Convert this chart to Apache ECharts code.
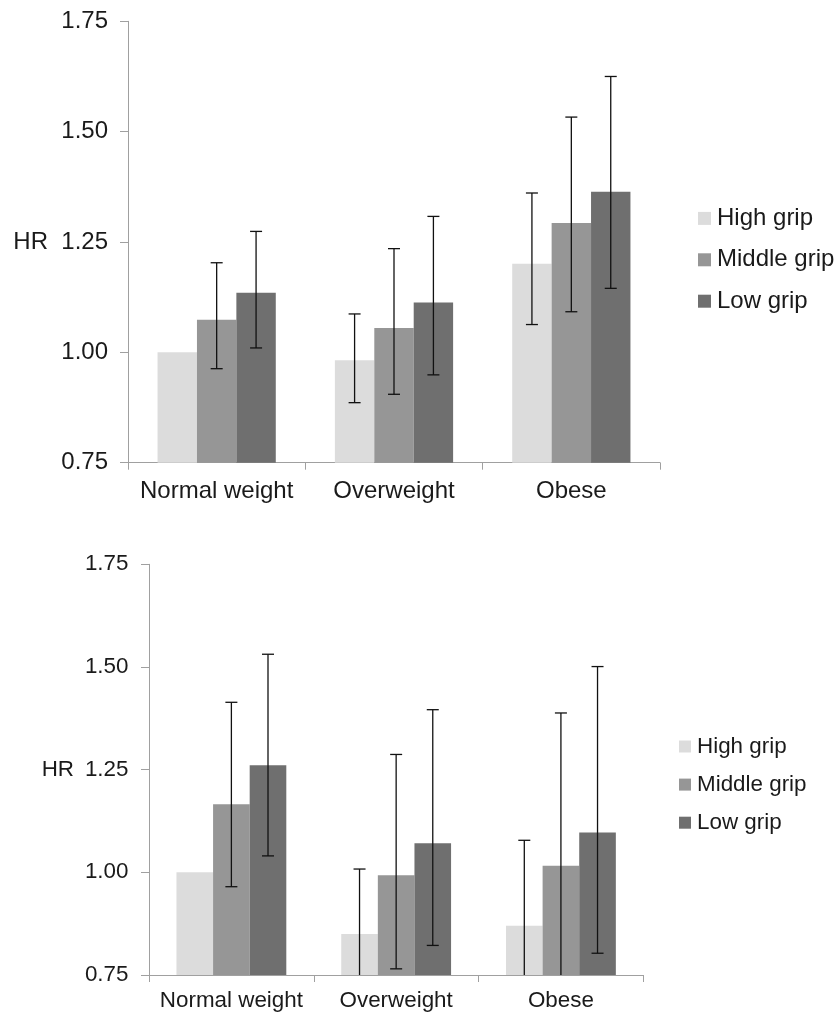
<!DOCTYPE html>
<html>
<head>
<meta charset="utf-8">
<script src="https://cdn.jsdelivr.net/npm/echarts@6/dist/echarts.min.js"></script>
<style>
html,body{margin:0;padding:0;background:#fff;}
#main{width:837px;height:1015px;}
</style>
</head>
<body>
<div id="main"></div>
<script>
// ---- data ----
var categories = ['Normal weight', 'Overweight', 'Obese'];
var seriesNames = ['High grip', 'Middle grip', 'Low grip'];
var yTicks = [0.75, 1.00, 1.25, 1.50, 1.75];

// Top panel
var topHigh   = [1.00, 0.982, 1.201];
var topMiddle = [1.074, 1.055, 1.293];
var topLow    = [1.135, 1.113, 1.364];
var topHighLo   = [null, 0.886, 1.063];
var topHighHi   = [null, 1.087, 1.361];
var topMiddleLo = [0.963, 0.905, 1.092];
var topMiddleHi = [1.203, 1.235, 1.533];
var topLowLo    = [1.010, 0.949, 1.145];
var topLowHi    = [1.274, 1.308, 1.625];

// Bottom panel
var botHigh   = [1.00, 0.850, 0.870];
var botMiddle = [1.166, 0.993, 1.016];
var botLow    = [1.261, 1.071, 1.097];
var botHighLo   = [null, 0.70, 0.70];
var botHighHi   = [null, 1.008, 1.078];
var botMiddleLo = [0.965, 0.765, 0.70];
var botMiddleHi = [1.414, 1.287, 1.388];
var botLowLo    = [1.040, 0.822, 0.803];
var botLowHi    = [1.531, 1.396, 1.501];

var colors = ['#dcdcdc', '#969696', '#6f6f6f'];
var FONT = "'Liberation Sans', Arial, sans-serif";
var GAP = 1/3;

function errData(los, his) {
  var out = [];
  for (var k = 0; k < 3; k++) {
    for (var i = 0; i < categories.length; i++) {
      if (los[k][i] == null) continue;
      out.push([i, k, los[k][i], his[k][i]]);
    }
  }
  return out;
}

function makeRender() {
  return function (params, api) {
    var cat = api.value(0), k = api.value(1);
    var lo = api.value(2), hi = api.value(3);
    var catW = api.size([1, 0])[0];
    var barW = catW * (1 - GAP) / 3;
    var c = api.coord([cat, hi]);
    var x = c[0] + (k - 1) * barW;
    var yHi = c[1];
    var yLo = api.coord([cat, lo])[1];
    var cs = params.coordSys;
    var bottom = cs.y + cs.height;
    var capW = 6;
    var children = [];
    var yLoC = Math.min(yLo, bottom);
    children.push({type: 'line', shape: {x1: x, y1: yHi, x2: x, y2: yLoC}, style: {stroke: '#111', lineWidth: 1.3}});
    children.push({type: 'line', shape: {x1: x - capW, y1: yHi, x2: x + capW, y2: yHi}, style: {stroke: '#111', lineWidth: 1.3}});
    if (yLo < bottom - 0.5) {
      children.push({type: 'line', shape: {x1: x - capW, y1: yLo, x2: x + capW, y2: yLo}, style: {stroke: '#111', lineWidth: 1.3}});
    }
    return {type: 'group', children: children};
  };
}

function yAxisCfg(gridIndex, fs, gap, margin) {
  return {
    type: 'value', gridIndex: gridIndex, min: 0.75, max: 1.75, interval: 0.25,
    name: 'HR', nameLocation: 'middle', nameRotate: 0, nameGap: gap,
    nameTextStyle: {fontFamily: FONT, fontSize: fs, color: '#1a1a1a'},
    axisLine: {show: true, lineStyle: {color: '#a0a0a0', width: 1}},
    axisTick: {show: true, length: 8, lineStyle: {color: '#a0a0a0'}},
    splitLine: {show: false},
    axisLabel: {fontFamily: FONT, fontSize: fs, color: '#1a1a1a', margin: margin,
      formatter: function (v) { return v.toFixed(2); }},
    data: yTicks
  };
}
function xAxisCfg(gridIndex, fs, margin) {
  return {
    type: 'category', gridIndex: gridIndex, data: categories,
    axisLine: {lineStyle: {color: '#a0a0a0', width: 1}},
    axisTick: {show: true, length: 7, lineStyle: {color: '#a0a0a0'}},
    axisLabel: {interval: 0, fontFamily: FONT, fontSize: fs, color: '#1a1a1a', margin: margin}
  };
}
function bars(idx, vals) {
  return vals.map(function (v, k) {
    return {
      name: seriesNames[k], type: 'bar', xAxisIndex: idx, yAxisIndex: idx,
      data: v, barGap: '0%', barCategoryGap: (GAP * 100) + '%',
      itemStyle: {color: colors[k]}, silent: true, animation: false
    };
  });
}

var series = []
  .concat(bars(0, [topHigh, topMiddle, topLow]))
  .concat(bars(1, [botHigh, botMiddle, botLow]));
series.push({
  type: 'custom', xAxisIndex: 0, yAxisIndex: 0, z: 5, animation: false,
  renderItem: makeRender(),
  data: errData([topHighLo, topMiddleLo, topLowLo], [topHighHi, topMiddleHi, topLowHi])
});
series.push({
  type: 'custom', xAxisIndex: 1, yAxisIndex: 1, z: 5, animation: false,
  renderItem: makeRender(),
  data: errData([botHighLo, botMiddleLo, botLowLo], [botHighHi, botMiddleHi, botLowHi])
});

var chart = echarts.init(document.getElementById('main'), null, {renderer: 'canvas'});
chart.setOption({
  backgroundColor: '#ffffff',
  animation: false,
  grid: [
    {left: 128, top: 21.3, width: 532, height: 441.4},
    {left: 149, top: 564.3, width: 494.3, height: 410.7}
  ],
  xAxis: [xAxisCfg(0, 24, 17), xAxisCfg(1, 22.4, 15)],
  yAxis: [yAxisCfg(0, 24, 80, 20), yAxisCfg(1, 22.4, 75, 20.5)],
  legend: [
    {orient: 'vertical', left: 698, top: 206.4, padding: 0, itemWidth: 13, itemHeight: 13, itemGap: 17.4,
     icon: 'rect', data: seriesNames, selectedMode: false,
     textStyle: {fontFamily: FONT, fontSize: 24, lineHeight: 22, color: '#1a1a1a', padding: [0, 0, 0, 1]}},
    {orient: 'vertical', left: 679, top: 735.5, padding: 0, itemWidth: 12, itemHeight: 12, itemGap: 16.1,
     icon: 'rect', data: seriesNames, selectedMode: false,
     textStyle: {fontFamily: FONT, fontSize: 22.4, lineHeight: 21, color: '#1a1a1a', padding: [0, 0, 0, 1]}}
  ],
  series: series
});
</script>
</body>
</html>
